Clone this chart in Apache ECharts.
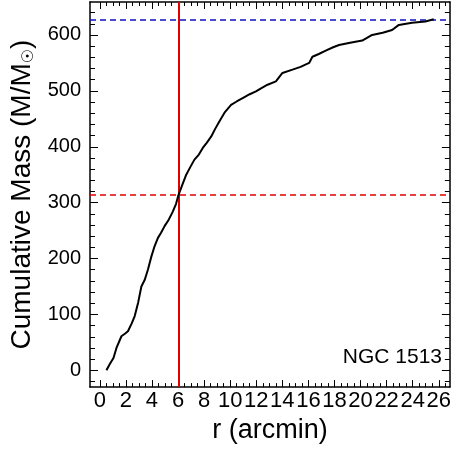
<!DOCTYPE html>
<html>
<head>
<meta charset="utf-8">
<script src="https://cdn.jsdelivr.net/npm/echarts@6/dist/echarts.min.js"></script>
<style>
html,body{margin:0;padding:0;background:#fff;}
#main{width:454px;height:449px;}
</style>
</head>
<body>
<div id="main"></div>
<script>
// radius (arcmin)
var radius = [0.51,0.76,1.05,1.28,1.66,1.95,2.16,2.45,2.68,2.95,3.19,3.45,3.69,3.95,4.20,4.46,4.70,4.97,5.30,5.60,5.85,6.04,6.30,6.63,6.95,7.26,7.60,7.90,8.20,8.54,8.85,9.17,9.60,10.07,10.50,10.96,11.50,11.98,12.40,12.87,13.51,14.01,14.78,15.40,16.06,16.31,16.80,17.33,17.90,18.35,19.20,20.13,20.89,21.70,22.42,22.94,23.95,24.97,25.61];
// cumulative mass
var mass = [0,11,22,40,61,66,70,84,97,122,150,162,180,203,222,237,246,258,270,284,298,314,330,350,364,377,386,398,407,418,432,445,462,475,481,487,494,499,505,511,517,532,538,543,550,561,566,572,578,582,586,590,600,604,609,618,622,624,628];
var halfRadius = 6.05;
var halfMass = 314;
var totalMass = 628;
var xTicks = [0,2,4,6,8,10,12,14,16,18,20,22,24,26];
var yTicks = [0,100,200,300,400,500,600];
var xMinor = [];
for (var i = 0; i <= 53; i++) xMinor.push(i * 0.5);
var yMinor = [];
for (var j = -20; j <= 640; j += 20) yMinor.push(j);

var FONT = '"Liberation Sans", Arial, sans-serif';
var XMIN = -0.75, XMAX = 26.85, YMIN = -30, YMAX = 659;

function xAx(pos, custom, len, showLine, showLabel, name) {
  return {
    type: 'value', position: pos, min: XMIN, max: XMAX,
    axisLine: {show: showLine, onZero: false, lineStyle: {color: '#000', width: 1.5}},
    axisTick: {show: true, inside: true, length: len, customValues: custom, lineStyle: {color: '#000', width: 1}},
    axisLabel: {show: showLabel, customValues: xTicks, color: '#000', fontSize: 22, fontFamily: FONT, margin: 3, hideOverlap: false},
    splitLine: {show: false},
    name: name || '', nameLocation: 'middle', nameGap: 24,
    nameTextStyle: {color: '#000', fontSize: 27, fontFamily: FONT}
  };
}
function yAx(pos, custom, len, showLine, showLabel, withName) {
  var o = {
    type: 'value', position: pos, min: YMIN, max: YMAX,
    axisLine: {show: showLine, onZero: false, lineStyle: {color: '#000', width: 1.5}},
    axisTick: {show: true, inside: true, length: len, customValues: custom, lineStyle: {color: '#000', width: 1}},
    axisLabel: {show: showLabel, customValues: yTicks, color: '#000', fontSize: 20, fontFamily: FONT, margin: 9},
    splitLine: {show: false}
  };
  if (withName) {
    o.name = '{a|Cumulative Mass (M/M}{b|☉}{a|)}';
    o.nameLocation = 'middle';
    o.nameGap = 48;
    o.nameTextStyle = {
      rich: {
        a: {fontSize: 28, fontFamily: FONT, color: '#000'},
        b: {fontSize: 16, fontFamily: '"DejaVu Sans", sans-serif', color: '#000', verticalAlign: 'bottom', padding: [10, 0, 0, 0]}
      }
    };
  }
  return o;
}

var chart = echarts.init(document.getElementById('main'), null, {renderer: 'canvas'});
var data = radius.map(function (r, k) { return [r, mass[k]]; });
chart.setOption({
  animation: false,
  backgroundColor: '#fff',
  grid: {left: 90, top: 2, width: 361, height: 386, containLabel: false},
  xAxis: [
    xAx('bottom', xTicks, 7, true, true, 'r (arcmin)'),
    xAx('bottom', xMinor, 4, false, false),
    xAx('top', xTicks, 7, true, false),
    xAx('top', xMinor, 4, false, false)
  ],
  yAxis: [
    yAx('left', yTicks, 8, true, true, true),
    yAx('left', yMinor, 5, false, false, false),
    yAx('right', yTicks, 8, true, false, false),
    yAx('right', yMinor, 5, false, false, false)
  ],
  graphic: [{
    type: 'text', right: 12, top: 347,
    style: {text: 'NGC 1513', font: '21px ' + FONT, fill: '#000'}
  }],
  series: [{
    type: 'line', data: data, xAxisIndex: 0, yAxisIndex: 0,
    showSymbol: false, symbol: 'none',
    lineStyle: {color: '#000', width: 2},
    z: 5,
    markLine: {
      silent: true, symbol: 'none', label: {show: false},
      data: [
        {yAxis: halfMass, lineStyle: {color: '#e00000', width: 1.5, type: [6, 4]}},
        {yAxis: totalMass, lineStyle: {color: '#1010c0', width: 1.5, type: [6, 4]}},
        {xAxis: halfRadius, lineStyle: {color: '#e00000', width: 2, type: 'solid'}}
      ]
    }
  }]
});
</script>
</body>
</html>
